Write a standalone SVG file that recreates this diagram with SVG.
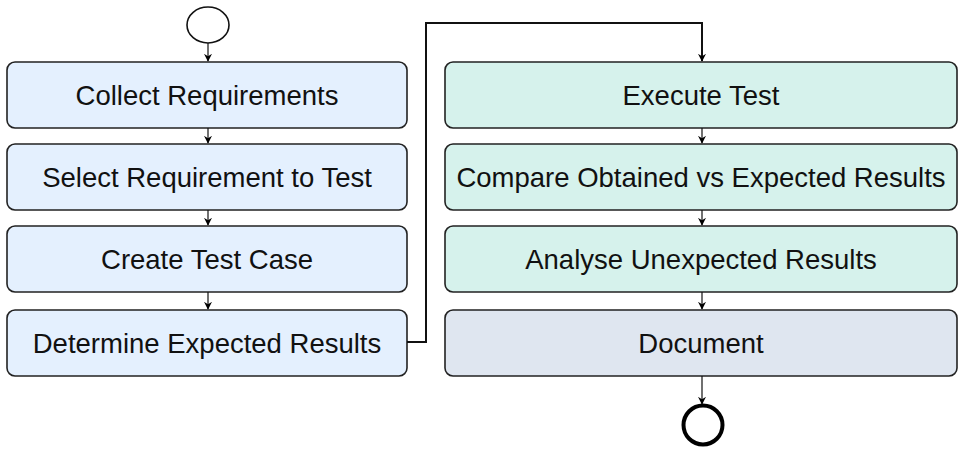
<svg xmlns="http://www.w3.org/2000/svg" width="958" height="450" viewBox="0 0 958 450">
  <defs>
    <marker id="arrow" viewBox="0 0 10 10" refX="9" refY="5" markerWidth="8" markerHeight="8" markerUnits="userSpaceOnUse" orient="auto">
      <path d="M0,0 L10,5 L0,10 L3,5 Z" fill="#000"/>
    </marker>
    <style>
      .box { stroke: #222; stroke-width: 1.6; }
      .left { fill: #e4f0fe; }
      .right { fill: #d6f2ec; }
      .doc { fill: #dfe6f0; }
      .label { font-family: "Liberation Sans", Arial, sans-serif; font-size: 27.5px; fill: #111; text-anchor: middle; }
      .edge { fill: none; stroke: #111; stroke-width: 1.2; }
      .edge-bold { fill: none; stroke: #111; stroke-width: 2; }
    </style>
  </defs>

  <!-- start / end markers -->
  <g id="start">
    <ellipse cx="208" cy="25" rx="21" ry="18" fill="#fff" stroke="#111" stroke-width="1.6"/>
  </g>
  <g id="end">
    <circle cx="703" cy="425" r="19.5" fill="#fff" stroke="#000" stroke-width="4"/>
  </g>

  <!-- left column -->
  <g id="collect">
    <rect class="box left" x="7" y="62" width="400" height="66" rx="8"/>
    <text class="label" x="207" y="105">Collect Requirements</text>
  </g>
  <g id="select">
    <rect class="box left" x="7" y="144" width="400" height="66" rx="8"/>
    <text class="label" x="207" y="187">Select Requirement to Test</text>
  </g>
  <g id="create">
    <rect class="box left" x="7" y="226" width="400" height="66" rx="8"/>
    <text class="label" x="207" y="269">Create Test Case</text>
  </g>
  <g id="determine">
    <rect class="box left" x="7" y="310" width="400" height="66" rx="8"/>
    <text class="label" x="207" y="353">Determine Expected Results</text>
  </g>

  <!-- right column -->
  <g id="execute">
    <rect class="box right" x="445" y="62" width="512" height="66" rx="8"/>
    <text class="label" x="701" y="105">Execute Test</text>
  </g>
  <g id="compare">
    <rect class="box right" x="445" y="144" width="512" height="66" rx="8"/>
    <text class="label" x="701" y="187">Compare Obtained vs Expected Results</text>
  </g>
  <g id="analyse">
    <rect class="box right" x="445" y="226" width="512" height="66" rx="8"/>
    <text class="label" x="701" y="269">Analyse Unexpected Results</text>
  </g>
  <g id="document">
    <rect class="box doc" x="445" y="310" width="512" height="66" rx="8"/>
    <text class="label" x="701" y="353">Document</text>
  </g>

  <!-- connectors -->
  <g id="connectors">
    <line class="edge" x1="208" y1="43" x2="208" y2="61" marker-end="url(#arrow)"/>
    <line class="edge" x1="208" y1="128" x2="208" y2="143" marker-end="url(#arrow)"/>
    <line class="edge" x1="208" y1="210" x2="208" y2="225" marker-end="url(#arrow)"/>
    <line class="edge" x1="208" y1="292" x2="208" y2="309" marker-end="url(#arrow)"/>
    <polyline class="edge-bold" points="407,342 426,342 426,23 702,23 702,61" marker-end="url(#arrow)"/>
    <line class="edge" x1="702" y1="128" x2="702" y2="143" marker-end="url(#arrow)"/>
    <line class="edge" x1="702" y1="210" x2="702" y2="225" marker-end="url(#arrow)"/>
    <line class="edge" x1="702" y1="292" x2="702" y2="309" marker-end="url(#arrow)"/>
    <line class="edge" x1="702" y1="376" x2="702" y2="404" marker-end="url(#arrow)"/>
  </g>
</svg>
